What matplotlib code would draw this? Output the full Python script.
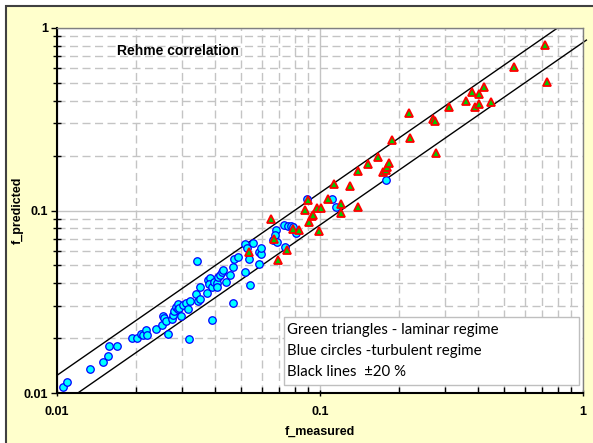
import numpy as np
import matplotlib.pyplot as plt
from matplotlib.patches import Rectangle
from matplotlib.ticker import LogLocator, NullFormatter

# turbulent regime (blue circles)
turb_measured = [0.01055, 0.01089, 0.01335, 0.01492, 0.01559, 0.01581, 0.01687, 0.01933,
                 0.02009, 0.02081, 0.02128, 0.02180, 0.02193, 0.02373, 0.02514, 0.02523,
                 0.02552, 0.02590, 0.02636, 0.02730, 0.02768, 0.02786, 0.02827, 0.02877,
                 0.02892, 0.02917, 0.02961, 0.03006, 0.03086, 0.03141, 0.03168, 0.03204,
                 0.03377, 0.03407, 0.03446, 0.03507, 0.03507, 0.03709, 0.03761, 0.03817,
                 0.03794, 0.03875, 0.03895, 0.03954, 0.04048, 0.04069, 0.04105, 0.04167,
                 0.04229, 0.04266, 0.04391, 0.04547, 0.04681, 0.04681, 0.04722, 0.04891,
                 0.05186, 0.05186, 0.05264, 0.05370, 0.05418, 0.05576, 0.05846, 0.05846,
                 0.05967, 0.05967, 0.06644, 0.06786, 0.06744, 0.06845, 0.07361, 0.07315,
                 0.07575, 0.07755, 0.07914, 0.08083, 0.08948, 0.1108, 0.1150, 0.1782]
turb_predicted = [0.01074, 0.01144, 0.01349, 0.01479, 0.01596, 0.01809, 0.01809, 0.02009,
                  0.02009, 0.02113, 0.02070, 0.02213, 0.02070, 0.02242, 0.02359, 0.02642,
                  0.02567, 0.02489, 0.02097, 0.02535, 0.02676, 0.02825, 0.02948, 0.02874,
                  0.03074, 0.02911, 0.02642, 0.03024, 0.03124, 0.02874, 0.01984, 0.03205,
                  0.03487, 0.05269, 0.03205, 0.03262, 0.03795, 0.03518, 0.04162, 0.04252,
                  0.03942, 0.02522, 0.03824, 0.04073, 0.03992, 0.03824, 0.04339, 0.04433,
                  0.04584, 0.04703, 0.04073, 0.04433, 0.03124, 0.04920, 0.05404, 0.05543,
                  0.04584, 0.06528, 0.06207, 0.05404, 0.03907, 0.06661, 0.05109, 0.05925,
                  0.05754, 0.06254, 0.06892, 0.07819, 0.07340, 0.06745, 0.06334, 0.08326,
                  0.08253, 0.08223, 0.08150, 0.07500, 0.1156, 0.1156, 0.1049, 0.1470]

# laminar regime (green triangles)
lam_measured = [0.05384, 0.06494, 0.06703, 0.06894, 0.07521, 0.07926, 0.08320, 0.08794,
                0.08979, 0.09107, 0.09299, 0.09431, 0.09765, 0.09939, 0.1006, 0.1075,
                0.1133, 0.1199, 0.1199, 0.1304, 0.1389, 0.1389, 0.1527, 0.1657,
                0.1741, 0.1782, 0.1803, 0.1834, 0.1873, 0.2189, 0.2193, 0.2682,
                0.2730, 0.2761, 0.3094, 0.3584, 0.3794, 0.3895, 0.4006, 0.4034,
                0.4185, 0.4470, 0.5481, 0.7190, 0.7316]
lam_predicted = [0.05947, 0.08927, 0.06978, 0.05356, 0.06113, 0.07968, 0.07819, 0.1003,
                 0.1141, 0.08682, 0.09271, 0.09448, 0.1028, 0.07721, 0.1028, 0.1152,
                 0.1392, 0.1079, 0.09629, 0.1357, 0.1652, 0.1039, 0.1805, 0.1956,
                 0.1632, 0.1671, 0.1742, 0.1832, 0.2440, 0.3443, 0.2506, 0.3160,
                 0.3105, 0.2058, 0.3692, 0.3997, 0.4461, 0.3692, 0.3844, 0.4340,
                 0.4751, 0.3947, 0.6137, 0.8039, 0.5029]

# +/- 20 % band
upper_x = [0.01, 0.8]
upper_factor = 1.25
lower_x = [0.012, 1.03]
lower_factor = 1 / 1.2

ticks = [0.01, 0.1, 1]
tick_labels = ['0.01', '0.1', '1']

fig = plt.figure(figsize=(5.93, 4.43), dpi=100)
fig.patch.set_facecolor('white')
fig.add_artist(Rectangle((6 / 593, -0.05), 1.0, 1.05 - 6 / 443, transform=fig.transFigure,
                         facecolor='#FFFFCC', edgecolor='#404040', lw=1.5, zorder=-5))

ax = fig.add_axes([57 / 593, 50 / 443, 526 / 593, 365 / 443])
ax.set_facecolor('white')
ax.set_xscale('log')
ax.set_yscale('log')
ax.set_xlim(0.01, 1)
ax.set_ylim(0.01, 1)

ax.set_axisbelow(True)
ax.grid(which='major', color='#C4C4C4', lw=1, ls='-')
ax.grid(which='minor', color='#C4C4C4', lw=1, ls=(0, (5.8, 3.2)))

for a in (ax.xaxis, ax.yaxis):
    a.set_minor_locator(LogLocator(base=10, subs=np.arange(2, 10)))
    a.set_minor_formatter(NullFormatter())
ax.set_xticks(ticks, tick_labels)
ax.set_yticks(ticks, tick_labels)
for lab in ax.get_xticklabels() + ax.get_yticklabels():
    lab.set_fontweight('bold')
    lab.set_fontfamily('Liberation Sans')
    lab.set_fontsize(9)

ax.tick_params(axis='y', which='major', direction='out', length=4, width=1, pad=2.5)
ax.tick_params(axis='y', which='minor', direction='inout', length=6, width=1)
ax.tick_params(axis='x', which='major', direction='inout', length=5, width=1, pad=7)
ax.tick_params(axis='x', which='minor', direction='in', length=4, width=1)

for s in ('top', 'right'):
    ax.spines[s].set_color('#808080')
    ax.spines[s].set_linewidth(1)
for s in ('left', 'bottom'):
    ax.spines[s].set_color('black')
    ax.spines[s].set_linewidth(1.5)

ux = np.array(upper_x)
lx = np.array(lower_x)
ax.plot(ux, ux * upper_factor, color='black', lw=1, zorder=2)
ax.plot(lx, lx * lower_factor, color='black', lw=1, zorder=2, clip_on=False)

ax.plot(turb_measured, turb_predicted, 'o', ms=5.4, mfc='#00FFFF', mec='#0000FF', mew=0.9, zorder=3)
ax.plot(lam_measured, lam_predicted, '^', ms=6, mfc='#00CC00', mec='#FF0000', mew=1.3, zorder=4)

ax.text(0.114, 0.938, 'Rehme correlation', transform=ax.transAxes, fontsize=10,
        fontweight='bold', family='Liberation Sans', va='center', ha='left')

ax.set_xlabel('f_measured', fontsize=9, fontweight='bold', family='Liberation Sans', va='center')
ax.xaxis.set_label_coords(0.5, -0.107)
ax.set_ylabel('f_predicted', fontsize=9, fontweight='bold', family='Liberation Sans', va='center')
ax.yaxis.set_label_coords(-0.074, 0.5)

# note box
ax.add_patch(Rectangle((0.4316, 0.0219), 0.5608, 0.1863, transform=ax.transAxes,
                       facecolor='white', edgecolor='#BFBFBF', lw=1, zorder=5))
notes = ['Green triangles - laminar regime', 'Blue circles -turbulent regime',
         'Black lines  \u00b120 %']
for i, t in enumerate(notes):
    ax.text(0.4373, 0.1726 - i * 0.0576, t, transform=ax.transAxes, fontsize=10.8,
            family='Lato', va='center', ha='left', zorder=6)

fig.savefig('out.png', dpi=100)
